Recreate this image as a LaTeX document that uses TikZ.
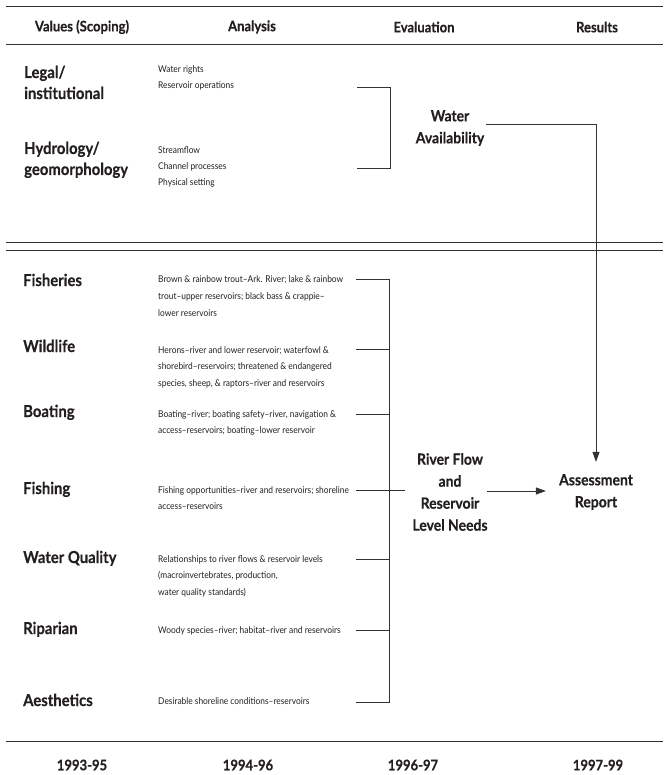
\documentclass[tikz,border=0pt]{standalone}
\usepackage{fontspec}
\setmainfont{Lato}
\newfontfamily\gill[FakeStretch=0.9, Ligatures=TeX, BoldFeatures={FakeBold=0.4}]{Lato}
\usetikzlibrary{arrows.meta}
\definecolor{ink}{HTML}{231F20}
\definecolor{linec}{HTML}{333333}
\begin{document}
\begin{tikzpicture}[x=1pt,y=-1pt,
  hd/.style={font=\gill\bfseries\fontsize{14.5}{16}\selectfont, text=ink, inner sep=0},
  val/.style={font=\gill\bfseries\fontsize{16.5}{21}\selectfont, text=ink, anchor=base west, align=left, inner sep=0},
  ana/.style={font=\gill\fontsize{9.3}{16.5}\selectfont, text=ink, anchor=base west, align=left, inner sep=0},
  anb/.style={ana, font=\gill\fontsize{9.3}{16}\selectfont},
  ev/.style={font=\gill\bfseries\fontsize{15.5}{22}\selectfont, text=ink, align=center, inner sep=0},
  ln/.style={line width=0.9pt, draw=linec},
  rule/.style={line width=1pt, draw=linec},
  arr/.style={ln, -{Triangle[length=10pt,width=7pt]}}]
\useasboundingbox (0,0) rectangle (663,775);

% horizontal rules
\coordinate (r1a) at (6,7);   \coordinate (r1b) at (663,7);
\coordinate (r2a) at (6,45);  \coordinate (r2b) at (663,45);
\coordinate (r3a) at (6,243); \coordinate (r3b) at (663,243);
\coordinate (r4a) at (6,251); \coordinate (r4b) at (663,251);
\coordinate (r5a) at (6,741); \coordinate (r5b) at (663,741);
\draw[rule] (r1a) -- (r1b);
\draw[rule] (r2a) -- (r2b);
\draw[rule] (r3a) -- (r3b);
\draw[rule] (r4a) -- (r4b);
\draw[rule] (r5a) -- (r5b);

% headers
\node[hd] (h1) at (82,27) {Values (Scoping)};
\node[hd] (h2) at (252,27) {Analysis};
\node[hd] (h3) at (424,27) {Evaluation};
\node[hd] (h4) at (597,27) {Results};

% years
\node[hd] (y1) at (82,765) {1993-95};
\node[hd] (y2) at (248,765) {1994-96};
\node[hd] (y3) at (413,765) {1996-97};
\node[hd] (y4) at (598,765) {1997-99};

% top section (base anchor = baseline of the last line)
\node[val] (legal) at (24,99) {Legal/\\institutional};
\node[val] (hydro) at (24,175) {Hydrology/\\geomorphology};
\node[anb] (alegal) at (158,89) {Water rights\\Reservoir operations};
\node[anb] (ahydro) at (158,186) {Streamflow\\Channel processes\\Physical setting};

\coordinate (bt) at (357,87); \coordinate (bb) at (357,168);
\draw[ln] (bt) -- (390,87) -- (390,168) -- (bb);

\node[ev] (wa) at (450,128) {Water\\Availability};

% bottom section
\node[val] (fish) at (23,286) {Fisheries};
\node[val] (wild) at (23,352) {Wildlife};
\node[val] (boat) at (23,417) {Boating};
\node[val] (fing) at (23,494) {Fishing};
\node[val] (wq)   at (23,563) {Water Quality};
\node[val] (rip)  at (23,634) {Riparian};
\node[val] (aes)  at (23,706) {Aesthetics};

\node[ana] (afish) at (158,316) {Brown \& rainbow trout--Ark. River; lake \& rainbow\\trout--upper reservoirs; black bass \& crappie--\\lower reservoirs};
\node[ana] (awild) at (158,386) {Herons--river and lower reservoir; waterfowl \&\\shorebird--reservoirs; threatened \& endangered\\species, sheep, \& raptors--river and reservoirs};
\node[ana] (aboat) at (158,433.5) {Boating--river; boating safety--river, navigation \&\\access--reservoirs; boating--lower reservoir};
\node[ana] (afing) at (158,509.5) {Fishing opportunities--river and reservoirs; shoreline\\access--reservoirs};
\node[ana] (awq)   at (158,595) {Relationships to river flows \& reservoir levels\\(macroinvertebrates, production,\\water quality standards)};
\node[ana] (arip)  at (158,633) {Woody species--river; habitat--river and reservoirs};
\node[ana] (aaes)  at (158,704) {Desirable shoreline conditions--reservoirs};

\coordinate (s1) at (356,279);
\coordinate (s2) at (356,349);
\coordinate (s3) at (356,414);
\coordinate (s4) at (356,490);
\coordinate (s5) at (356,559);
\coordinate (s6) at (356,630);
\coordinate (s7) at (356,702);
\coordinate (v1) at (389,279);
\coordinate (v7) at (389,702);
\coordinate (fx) at (405,490);
\draw[ln] (s1) -- (v1) -- (v7) -- (s7);
\draw[ln] (s2) -- (s2 -| v1);
\draw[ln] (s3) -- (s3 -| v1);
\draw[ln] (s4) -- (fx);
\draw[ln] (s5) -- (s5 -| v1);
\draw[ln] (s6) -- (s6 -| v1);

\node[ev] (rfn) at (450,492) {River Flow\\and\\Reservoir\\Level Needs};
\node[ev] (ar) at (596,492) {Assessment\\Report};

\draw[arr, shorten <=2pt, shorten >=12pt] ([yshift=4pt]wa.east) -| (ar.north);
\draw[arr, shorten >=13pt] ([xshift=37pt,yshift=1pt]rfn.center) -- ([yshift=1pt]ar.west);
\end{tikzpicture}
\end{document}
